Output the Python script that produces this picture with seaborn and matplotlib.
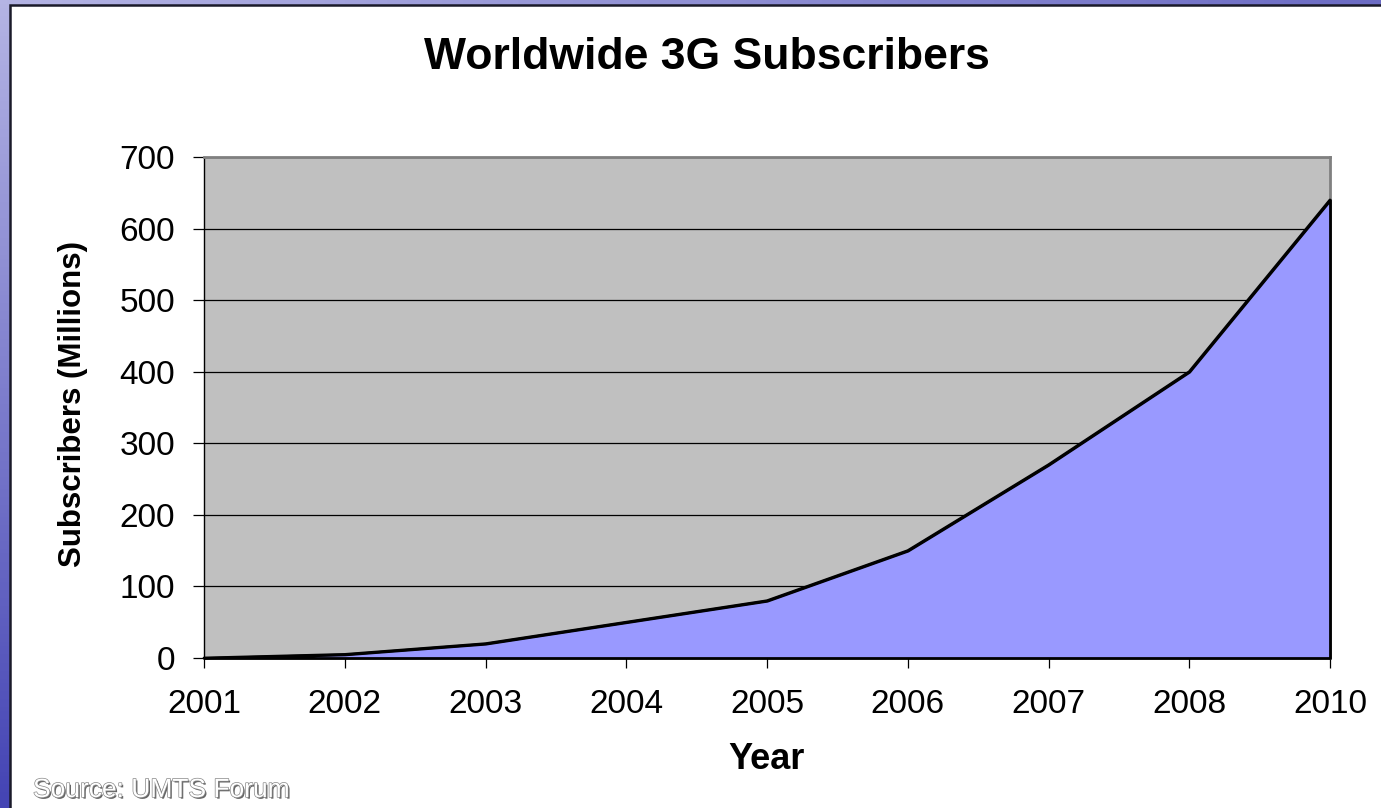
import numpy as np
import pandas as pd
import matplotlib
matplotlib.use("Agg")
import matplotlib.pyplot as plt
import matplotlib.patheffects as pe
from matplotlib.patches import Rectangle
from matplotlib.colors import to_rgb
import seaborn as sns

# ---- data ----
years = ["2001", "2002", "2003", "2004", "2005", "2006", "2007", "2008", "2010"]
subscribers = [0, 5, 20, 50, 80, 150, 270, 400, 640]
y_ticks = [0, 100, 200, 300, 400, 500, 600, 700]

title = "Worldwide 3G Subscribers"
x_label = "Year"
y_label = "Subscribers (Millions)"
source = "Source: UMTS Forum"

sns.set_theme(style="white")
plt.rcParams["font.family"] = ["Liberation Sans", "DejaVu Sans"]

W, H = 1381, 808
fig = plt.figure(figsize=(W / 100, H / 100), dpi=100)

# ---- decorative background gradient ----
bg = fig.add_axes([0, 0, 1, 1], zorder=-10)
ny, nx = 200, 200
yy, xx = np.mgrid[0:1:ny * 1j, 0:1:nx * 1j]
light = np.array(to_rgb("#b4b4e4"))
mid = np.array(to_rgb("#6c6cc4"))
dark = np.array(to_rgb("#4444b4"))
t_top = np.clip(xx * 1.0, 0, 1)
t_left = np.clip(yy * 1.0, 0, 1)
grad = np.empty((ny, nx, 3))
for c in range(3):
    grad[..., c] = light[c] * (1 - t_top) * (1 - t_left) + mid[c] * t_top * (1 - t_left) + dark[c] * t_left
bg.imshow(grad, aspect="auto", extent=[0, 1, 0, 1], origin="upper")
bg.set_axis_off()

panel = Rectangle((10 / W, -0.1), 1.2, (1 - 5 / H) + 0.1, transform=fig.transFigure,
                  facecolor="white", edgecolor="#1a1a2a", linewidth=1.8, zorder=-5)
fig.patches.append(panel)

# ---- main axes ----
ax = fig.add_axes([204 / W, 1 - 658 / H, (1330 - 204) / W, (658 - 157) / H])
ax.set_facecolor("#c0c0c0")

df = pd.DataFrame({"pos": np.arange(len(years)), "value": subscribers})

ax.fill_between(df["pos"], df["value"], 0, facecolor="#9999ff", edgecolor="black",
                linewidth=2.0, zorder=3, clip_on=False)
sns.lineplot(data=df, x="pos", y="value", ax=ax, color="black", linewidth=2.0,
             zorder=4, clip_on=False)

ax.set_xlim(0, len(years) - 1)
ax.set_ylim(0, 700)
ax.set_xticks(df["pos"])
ax.set_xticklabels(years)
ax.set_yticks(y_ticks)
ax.set_yticklabels([str(v) for v in y_ticks])

ax.yaxis.grid(True, color="black", linewidth=0.9, zorder=1)
ax.xaxis.grid(False)
ax.set_axisbelow(True)

for s in ["left", "bottom"]:
    ax.spines[s].set_color("black")
    ax.spines[s].set_linewidth(1.0)
for s in ["top", "right"]:
    ax.spines[s].set_color("#808080")
    ax.spines[s].set_linewidth(2.0)

ax.tick_params(axis="x", direction="out", length=7.5, width=0.9, color="black",
               labelsize=24, pad=15, bottom=True)
ax.tick_params(axis="y", direction="out", length=8, width=0.9, color="black",
               labelsize=24, pad=13, left=True)
for lab in ax.get_xticklabels() + ax.get_yticklabels():
    lab.set_color("black")

ax.set_xlabel("")
ax.set_ylabel("")

# ---- texts ----
fig.text(707 / W, 1 - 69 / H, title, ha="center", va="baseline",
         fontsize=32, fontweight="bold", color="black")
fig.text(767 / W, 1 - 769 / H, x_label, ha="center", va="baseline",
         fontsize=26, fontweight="bold", color="black")
fig.text(73 / W, 1 - 404 / H, y_label, ha="center", va="center", rotation=90,
         fontsize=22.5, fontweight="bold", color="black")
fig.text(33 / W, 1 - 797 / H, source, ha="left", va="baseline", fontsize=19,
         color="white",
         path_effects=[pe.withSimplePatchShadow(offset=(1.2, -1.2), shadow_rgbFace="#555555", alpha=0.9),
                       pe.withStroke(linewidth=1.0, foreground="#888888")])

fig.savefig("out.png", dpi=100)
